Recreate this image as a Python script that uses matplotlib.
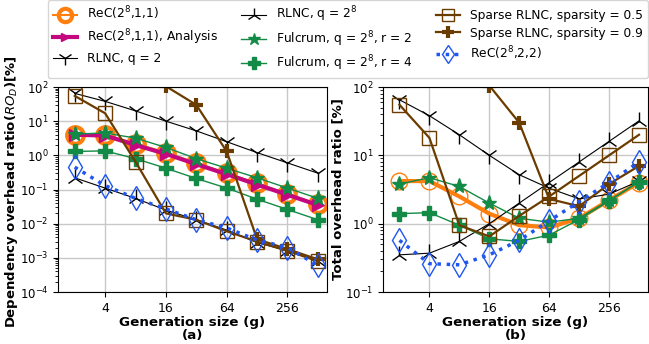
import numpy as np
import matplotlib
matplotlib.use("Agg")
import matplotlib.pyplot as plt
from matplotlib.ticker import FixedLocator, FixedFormatter, LogLocator, NullFormatter

nan = np.nan
g = [2, 4, 8, 16, 32, 64, 128, 256, 512]
xticks = [4, 16, 64, 256]
xticklabels = ["4", "16", "64", "256"]

labels = ["ReC($2^8$,1,1)", "ReC($2^8$,1,1), Analysis", "RLNC, q = 2",
          "RLNC, q = $2^8$", "Fulcrum, q = $2^8$, r = 2", "Fulcrum, q = $2^8$, r = 4",
          "Sparse RLNC, sparsity = 0.5", "Sparse RLNC, sparsity = 0.9", "ReC($2^8$,2,2)"]

# (a) dependency overhead ratio [%]
a_rec11 = [4.0, 4.0, 2.2, 1.2, 0.6, 0.3, 0.15, 0.075, 0.037]
a_rec11_an = [4.0, 3.8, 2.0, 1.1, 0.55, 0.28, 0.14, 0.07, 0.035]
a_rlnc2 = [65, 38, 20, 10, 5.2, 2.5, 1.2, 0.6, 0.3]
a_rlnc256 = [0.22, 0.11, 0.055, 0.025, 0.013, 0.0065, 0.0028, 0.0016, 0.0008]
a_fulc2 = [4.2, 4.5, 3.2, 1.7, 0.8, 0.42, 0.22, 0.11, 0.055]
a_fulc4 = [1.3, 1.35, 0.8, 0.42, 0.21, 0.11, 0.052, 0.026, 0.013]
a_sp05 = [55, 17, 0.65, 0.02, 0.013, 0.006, 0.003, 0.0016, 0.0008]
a_sp09 = [nan, nan, nan, 105, 30, 1.3, 0.0035, 0.0018, 0.0009]
a_rec22 = [0.45, 0.13, 0.055, 0.027, 0.013, 0.0075, 0.0033, 0.002, 0.0006]

# (b) total overhead ratio [%]
b_rec11 = [4.2, 4.2, 2.5, 1.4, 0.95, 0.88, 1.2, 2.2, 4.0]
b_rlnc2 = [65, 38, 20, 10, 5.2, 3.3, 2.3, 2.7, 4.2]
b_rlnc256 = [0.35, 0.37, 0.55, 1.0, 2.0, 4.0, 8.0, 16, 32]
b_fulc2 = [3.8, 4.7, 3.5, 2.0, 1.2, 1.05, 1.2, 2.2, 4.1]
b_fulc4 = [1.4, 1.45, 0.95, 0.6, 0.55, 0.68, 1.15, 2.15, 4.1]
b_sp05 = [55, 18, 0.95, 0.65, 1.3, 2.5, 5.0, 10, 20]
b_sp09 = [nan, nan, nan, 105, 30, 2.3, 1.8, 3.8, 7.0]
b_rec22 = [0.57, 0.26, 0.25, 0.35, 0.57, 1.1, 2.1, 4.0, 8.0]

ORANGE = "#ff7f0e"
MAGENTA = "#c4077e"
GREEN = "#138a45"
BROWN = "#6b3c00"
BLUE = "#1f55f0"

plt.rcParams['font.family'] = ['DejaVu Sans']
fig = plt.figure(figsize=(6.49, 3.44), dpi=100)
axa = fig.add_axes([58/649, 52/344, 269/649, 205/344])
axb = fig.add_axes([383/649, 52/344, 265/649, 205/344])

def style(ax):
    ax.set_xscale("log", base=2)
    ax.set_yscale("log")
    ax.xaxis.set_major_locator(FixedLocator(xticks))
    ax.xaxis.set_major_formatter(FixedFormatter(xticklabels))
    ax.xaxis.set_minor_locator(FixedLocator([]))
    ax.yaxis.set_major_locator(LogLocator(base=10, numticks=20))
    ax.yaxis.set_minor_locator(LogLocator(base=10, subs=np.arange(2, 10), numticks=20))
    ax.yaxis.set_minor_formatter(NullFormatter())
    ax.grid(True, which="major", color="#c8c8c8", linewidth=1.0)
    ax.set_axisbelow(True)
    ax.set_xlim(2 ** 0.45, 2 ** 9.3)
    ax.tick_params(axis="y", labelsize=8.5)
    ax.tick_params(axis="x", labelsize=9)

style(axa)
style(axb)

# panel (a)
h = []
h += axa.plot(g, a_rec11, color=ORANGE, lw=1.5, marker="o", ms=12, mfc="none", mew=3, label=labels[0])
h += axa.plot(g, a_rec11_an, color=MAGENTA, lw=3, marker=">", ms=8, label=labels[1])
h += axa.plot(g, a_rlnc2, color="black", lw=0.8, marker="1", ms=13, mew=1.0, label=labels[2])
h += axa.plot(g, a_rlnc256, color="black", lw=0.8, marker="2", ms=13, mew=1.0, label=labels[3])
h += axa.plot(g, a_fulc2, color=GREEN, lw=1.0, marker="*", ms=11, label=labels[4])
h += axa.plot(g, a_fulc4, color=GREEN, lw=1.0, marker="P", ms=10, label=labels[5])
h += axa.plot(g, a_sp05, color=BROWN, lw=1.6, marker="s", ms=10, mfc="none", mew=1.0, label=labels[6])
h += axa.plot(g, a_sp09, color=BROWN, lw=1.6, marker="+", ms=10, mew=3, label=labels[7])
h += axa.plot(g, a_rec22, color=BLUE, lw=2.5, ls=":", marker="d", ms=12, mfc="none", mew=1.0, label=labels[8])
axa.set_ylim(1e-4, 1e2)
axa.set_xlabel("Generation size (g)\n(a)", fontsize=9.7, fontweight="bold", labelpad=1, linespacing=1.0)
axa.set_ylabel("Dependency overhead ratio($RO_D$)[%]", fontsize=9.5, fontweight="bold")
axa.yaxis.set_label_coords(-0.14, 0.49)

# panel (b)
axb.plot(g, b_rec11, color=ORANGE, lw=3, marker="o", ms=12, mfc="none", mew=1.0)
axb.plot(g, b_rlnc2, color="black", lw=0.8, marker="1", ms=13, mew=1.0)
axb.plot(g, b_rlnc256, color="black", lw=0.8, marker="2", ms=13, mew=1.0)
axb.plot(g, b_fulc2, color=GREEN, lw=1.0, marker="*", ms=11)
axb.plot(g, b_fulc4, color=GREEN, lw=1.0, marker="P", ms=10)
axb.plot(g, b_sp05, color=BROWN, lw=1.6, marker="s", ms=10, mfc="none", mew=1.0)
axb.plot(g, b_sp09, color=BROWN, lw=1.6, marker="+", ms=10, mew=3)
axb.plot(g, b_rec22, color=BLUE, lw=2.5, ls=":", marker="d", ms=12, mfc="none", mew=1.0)
axb.set_ylim(1e-1, 1e2)
axb.set_xlabel("Generation size (g)\n(b)", fontsize=9.7, fontweight="bold", labelpad=1, linespacing=1.0)
axb.set_ylabel("Total overhead ratio [%]", fontsize=9.5, fontweight="bold")
axb.yaxis.set_label_coords(-0.145, 0.5)

fig.legend(handles=h, loc="upper left", bbox_to_anchor=(48/649, 1.0), ncol=3,
           fontsize=8.8, frameon=True, borderaxespad=0.0, columnspacing=1.9,
           handlelength=2.0, labelspacing=0.4, markerscale=0.8)

fig.savefig("out.png", dpi=100)
